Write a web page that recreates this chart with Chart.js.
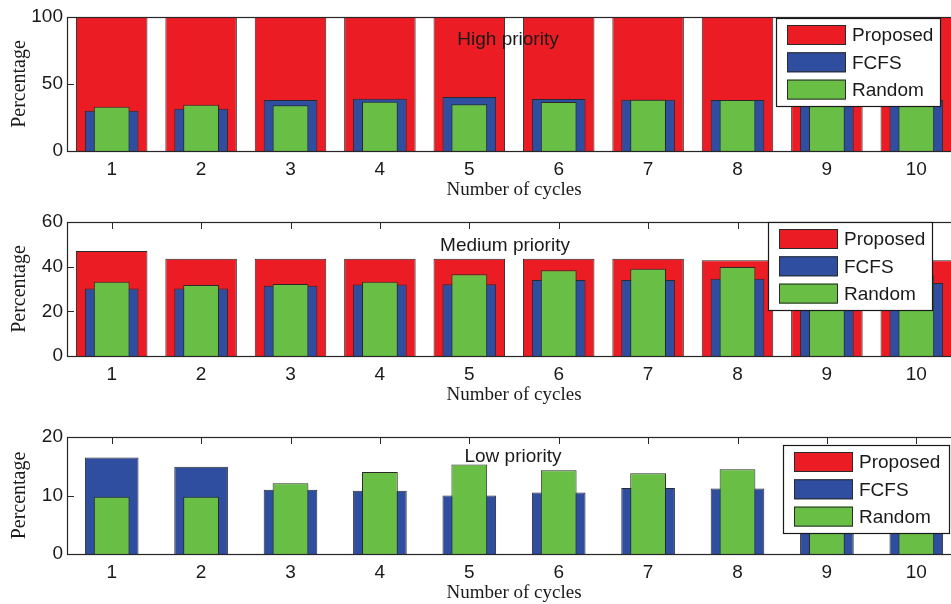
<!DOCTYPE html>
<html>
<head>
<meta charset="utf-8">
<script src="https://cdn.jsdelivr.net/npm/chart.js@4.4.0/dist/chart.umd.min.js"></script>
<style>
  html, body { margin: 0; padding: 0; background: #ffffff; overflow: hidden; }
  #wrap { position: relative; width: 951px; height: 604px; overflow: hidden; background: #ffffff; }
  canvas { position: absolute; left: 0; }
</style>
</head>
<body>
<div id="wrap">
  <canvas id="highChart" width="1000" height="201" style="top:0px"></canvas>
  <canvas id="mediumChart" width="1000" height="201" style="top:205px"></canvas>
  <canvas id="lowChart" width="1000" height="184" style="top:420px"></canvas>
</div>
<script>
// Cycle numbers on the x axis
const cycles = ['1', '2', '3', '4', '5', '6', '7', '8', '9', '10'];
const seriesNames = ['Proposed', 'FCFS', 'Random'];

// High priority (%)
const highProposed = [100, 100, 100, 100, 100, 100, 100, 100, 100, 100];
const highFCFS     = [30.1, 31.6, 38.1, 39.0, 40.3, 38.8, 38.3, 38.1, 38.0, 38.0];
const highRandom   = [33.1, 34.6, 34.1, 36.8, 34.8, 36.6, 38.3, 38.1, 38.0, 37.0];

// Medium priority (%)
const mediumProposed = [47.0, 43.6, 43.6, 43.6, 43.6, 43.6, 43.6, 42.9, 43.0, 42.9];
const mediumFCFS     = [30.2, 30.2, 31.4, 32.0, 32.1, 34.0, 34.0, 34.6, 33.0, 32.7];
const mediumRandom   = [33.3, 31.8, 32.2, 33.3, 36.6, 38.4, 39.1, 39.9, 38.0, 36.0];

// Low priority (%)
const lowProposed = [0, 0, 0, 0, 0, 0, 0, 0, 0, 0];
const lowFCFS     = [16.5, 14.9, 11.0, 10.8, 10.0, 10.5, 11.3, 11.2, 11.0, 11.0];
const lowRandom   = [9.8, 9.8, 12.1, 14.0, 15.3, 14.3, 13.8, 14.5, 13.0, 12.0];

// Y axis tick settings per panel
const highTicks = { max: 100, step: 50 };
const mediumTicks = { max: 60, step: 20 };
const lowTicks = { max: 20, step: 10 };

const SANS = "'Liberation Sans', Arial, Helvetica, sans-serif";
const SERIF = "'Liberation Serif', 'Times New Roman', serif";
const INK = '#1a1a1a';
const COLORS = ['#ec1c24', '#2f4ea0', '#69be45'];
const WIDTHS = [0.8, 0.6, 0.4];

// Boxed axes with inward ticks, an in-plot caption and a boxed legend
const boxAxes = {
  id: 'boxAxes',
  beforeDatasetsDraw(chart) {
    const { ctx, chartArea: a, scales: { x, y } } = chart;
    const L = 7;
    ctx.save();
    ctx.strokeStyle = '#2a2a2a';
    ctx.lineWidth = 1;
    ctx.beginPath();
    x.ticks.forEach((t, i) => {
      const px = Math.round(x.getPixelForTick(i)) + 0.5;
      ctx.moveTo(px, a.top); ctx.lineTo(px, a.top + L);
      ctx.moveTo(px, a.bottom); ctx.lineTo(px, a.bottom - L);
    });
    y.ticks.forEach(t => {
      const py = Math.round(y.getPixelForValue(t.value)) + 0.5;
      ctx.moveTo(a.left, py); ctx.lineTo(a.left + L, py);
      ctx.moveTo(a.right, py); ctx.lineTo(a.right - L, py);
    });
    ctx.stroke();
    ctx.restore();
  },
  afterDatasetsDraw(chart, args, opts) {
    const { ctx, chartArea: a } = chart;
    ctx.save();
    // frame
    ctx.strokeStyle = '#262626';
    ctx.lineWidth = 1.2;
    ctx.strokeRect(Math.round(a.left) + 0.5, Math.round(a.top) + 0.5,
                   Math.round(a.right - a.left), Math.round(a.bottom - a.top));
    // caption
    ctx.fillStyle = INK;
    ctx.font = '19px ' + SANS;
    ctx.textAlign = 'center';
    ctx.textBaseline = 'middle';
    ctx.fillText(opts.caption, opts.captionX, opts.captionY);
    // legend
    const lx = opts.legendX, ly = opts.legendY, lw = opts.legendW, lh = 88;
    ctx.fillStyle = '#ffffff';
    ctx.fillRect(lx, ly, lw, lh);
    ctx.strokeStyle = '#1a1a1a';
    ctx.lineWidth = 1.2;
    ctx.strokeRect(lx + 0.5, ly + 0.5, lw, lh);
    chart.data.datasets.forEach((ds, i) => {
      const cy = ly + 17 + i * 27.3;
      ctx.fillStyle = ds.backgroundColor;
      ctx.fillRect(lx + 11, cy - 10, 59, 20);
      ctx.strokeStyle = '#2a2a2a';
      ctx.lineWidth = 1;
      ctx.strokeRect(lx + 11.5, cy - 9.5, 58, 19);
      ctx.fillStyle = INK;
      ctx.textAlign = 'left';
      ctx.textBaseline = 'middle';
      ctx.fillText(ds.label, lx + 76, cy + 1);
    });
    ctx.restore();
  }
};

function makePanel(id, series, ticks, panelOpts) {
  const datasets = series.map((values, i) => ({
    label: seriesNames[i],
    data: values,
    backgroundColor: COLORS[i],
    borderColor: '#2a2a2a',
    borderWidth: 1,
    grouped: false,
    categoryPercentage: 1,
    barPercentage: WIDTHS[i],
    order: 3 - i
  }));
  return new Chart(document.getElementById(id), {
    type: 'bar',
    data: { labels: cycles, datasets },
    options: {
      responsive: false,
      animation: false,
      devicePixelRatio: 1,
      layout: { padding: { top: 17, right: 39, left: 0, bottom: 0 } },
      plugins: {
        legend: { display: false },
        tooltip: { enabled: false },
        boxAxes: panelOpts
      },
      scales: {
        x: {
          grid: { display: false, drawTicks: false },
          border: { display: false },
          ticks: { color: INK, font: { family: SANS, size: 19 }, padding: 7, maxRotation: 0 },
          title: { display: true, text: 'Number of cycles', color: INK,
                   font: { family: SERIF, size: 19 }, padding: { top: 0, bottom: 0 } },
          afterFit: s => { s.height = 50; }
        },
        y: {
          min: 0,
          max: ticks.max,
          grid: { display: false, drawTicks: false },
          border: { display: false },
          ticks: { stepSize: ticks.step, color: INK, font: { family: SANS, size: 19 }, padding: 4 },
          title: { display: true, text: 'Percentage', color: INK,
                   font: { family: SERIF, size: 20 }, padding: { top: 8, bottom: 0 } },
          afterFit: s => { s.width = 67; }
        }
      }
    },
    plugins: [boxAxes]
  });
}

makePanel('highChart', [highProposed, highFCFS, highRandom], highTicks,
  { caption: 'High priority', captionX: 508, captionY: 40, legendX: 776, legendY: 18, legendW: 164 });
makePanel('mediumChart', [mediumProposed, mediumFCFS, mediumRandom], mediumTicks,
  { caption: 'Medium priority', captionX: 505, captionY: 41, legendX: 768, legendY: 17, legendW: 164 });
makePanel('lowChart', [lowProposed, lowFCFS, lowRandom], lowTicks,
  { caption: 'Low priority', captionX: 513, captionY: 37, legendX: 783, legendY: 25, legendW: 166 });
</script>
</body>
</html>
